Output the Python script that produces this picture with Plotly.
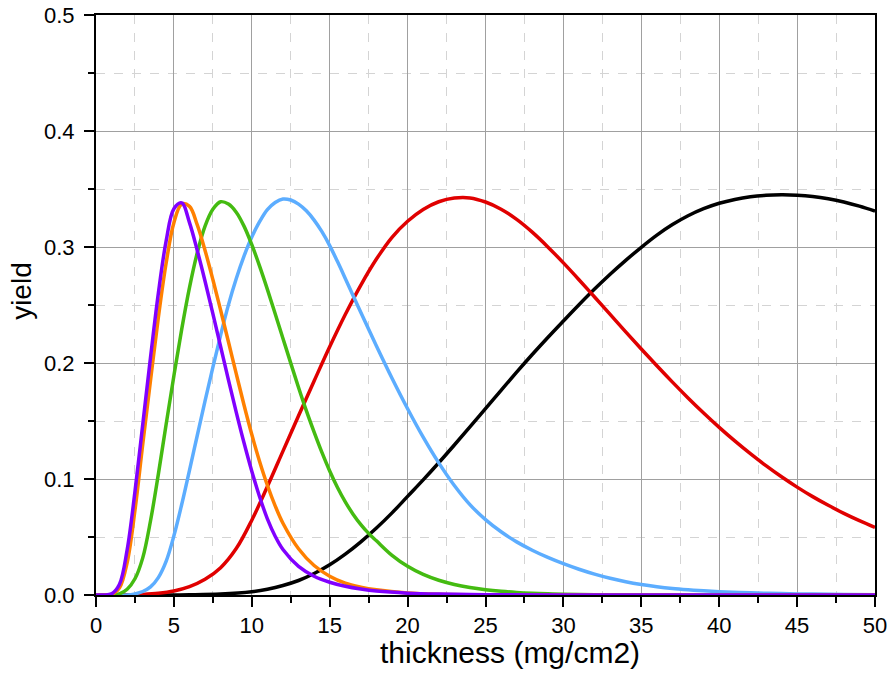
import plotly.graph_objects as go

# ---- data ----
purple_x = [0, 0.5, 1.0, 1.5, 2.0, 2.5, 3.0, 3.5, 4.0, 4.5, 5.0, 5.5, 6.0, 6.5, 7.0, 7.5, 8.0, 8.5, 9.0, 9.5,
            10.0, 10.5, 11.0, 11.5, 12.0, 13, 14, 15, 16, 17, 18, 20, 22, 25, 30, 50]
purple_y = [0, 0, 0.001, 0.009, 0.039, 0.089, 0.147, 0.205, 0.260, 0.305, 0.333, 0.338, 0.321, 0.297, 0.2705,
            0.2425, 0.214, 0.1855, 0.1577, 0.1312, 0.1067, 0.0847, 0.0657, 0.0507, 0.0392, 0.0247, 0.0162,
            0.011, 0.0075, 0.0051, 0.0034, 0.0016, 0.0008, 0.0003, 0, 0]

orange_x = [0, 0.5, 1.0, 1.5, 2.0, 2.5, 3.0, 3.5, 4.0, 4.5, 5.0, 5.5, 6.0, 6.5, 7.0, 7.5, 8.0, 8.5, 9.0, 9.5,
            10.0, 10.5, 11.0, 11.5, 12.0, 13, 14, 15, 16, 17, 18, 20, 22, 25, 30, 50]
orange_y = [0, 0, 0.0005, 0.006, 0.028, 0.073, 0.130, 0.185, 0.239, 0.286, 0.321, 0.337, 0.335, 0.319, 0.297,
            0.272, 0.2455, 0.2183, 0.1908, 0.1638, 0.1383, 0.1151, 0.0946, 0.0769, 0.0619, 0.0399, 0.0254,
            0.0162, 0.0102, 0.0068, 0.0045, 0.0018, 0.0007, 0.0002, 0, 0]

green_x = [0, 1.0, 1.5, 2.0, 2.5, 3.0, 3.5, 4.0, 4.5, 5.0, 5.5, 6.0, 6.5, 7.0, 7.5, 8.0, 8.5, 9.0, 9.5, 10.0,
           10.5, 11.0, 11.5, 12.0, 12.5, 13.0, 13.5, 14.0, 14.5, 15.0, 15.5, 16.0, 16.5, 17.0, 17.5, 18.0,
           19, 20, 21, 22, 23, 24, 25, 26, 27, 28, 29, 30, 32, 35, 40, 50]
green_y = [0, 0, 0.001, 0.005, 0.014, 0.032, 0.064, 0.104, 0.147, 0.189, 0.229, 0.265, 0.295, 0.318, 0.3325,
           0.339, 0.337, 0.330, 0.318, 0.302, 0.2835, 0.2635, 0.2425, 0.2212, 0.1999, 0.1789, 0.1589, 0.1404,
           0.1229, 0.1069, 0.0927, 0.0803, 0.0697, 0.0607, 0.0531, 0.0467, 0.0342, 0.0247, 0.0177, 0.0127,
           0.0091, 0.0065, 0.0046, 0.0032, 0.0022, 0.0015, 0.001, 0.0007, 0.0003, 0.0001, 0, 0]

blue_x = [0, 2.0, 2.5, 3.0, 3.5, 4.0, 4.5, 5.0, 5.5, 6.0, 6.5, 7.0, 7.5, 8.0, 8.5, 9.0, 9.5, 10.0, 10.5, 11.0,
          11.5, 12.0, 12.5, 13.0, 13.5, 14.0, 14.5, 15.0, 15.5, 16.0, 17, 18, 19, 20, 21, 22, 23, 24, 25, 26,
          27, 28, 29, 30, 31, 32, 33, 34, 35, 36, 37, 38, 39, 40, 42, 44, 46, 48, 50]
blue_y = [0, 0, 0.001, 0.003, 0.007, 0.015, 0.029, 0.051, 0.078, 0.1075, 0.1375, 0.1673, 0.1963, 0.2241,
          0.2501, 0.2726, 0.2921, 0.3086, 0.3218, 0.3322, 0.3384, 0.3414, 0.3405, 0.3370, 0.3312, 0.3232,
          0.3132, 0.3012, 0.2874, 0.2729, 0.2435, 0.2147, 0.1869, 0.1606, 0.1361, 0.1139, 0.0944, 0.0779,
          0.0650, 0.0545, 0.0458, 0.0386, 0.0324, 0.0270, 0.0222, 0.0180, 0.0144, 0.0114, 0.0090, 0.0071,
          0.0056, 0.0045, 0.0036, 0.0029, 0.0019, 0.0012, 0.0008, 0.0005, 0.0003]

red_x = [0, 2, 3, 4, 5, 6, 7, 8, 9, 10, 11, 12, 13, 14, 15, 16, 17, 18, 19, 20, 21, 22, 23, 24, 25, 26, 27, 28,
         29, 30, 31, 32, 33, 34, 35, 36, 37, 38, 39, 40, 41, 42, 43, 44, 45, 46, 47, 48, 49, 50]
red_y = [0, 0, 0.0005, 0.0015, 0.0035, 0.0072, 0.0135, 0.0235, 0.040, 0.0645, 0.0935, 0.124, 0.1545, 0.1845,
         0.214, 0.2418, 0.2672, 0.2896, 0.3084, 0.3222, 0.3324, 0.339, 0.3422, 0.3423, 0.3388, 0.3326, 0.3238,
         0.3128, 0.3001, 0.2863, 0.2718, 0.2569, 0.2419, 0.2269, 0.2121, 0.1976, 0.1835, 0.1699, 0.1569,
         0.1445, 0.1328, 0.1218, 0.1115, 0.1019, 0.0930, 0.0848, 0.0773, 0.0704, 0.0641, 0.0583]

black_x = [0, 4, 6, 8, 10, 11, 12, 13, 14, 15, 16, 17, 18, 19, 20, 21, 22, 23, 24, 25, 26, 27, 28, 29, 30, 31,
           32, 33, 34, 35, 36, 37, 38, 39, 40, 41, 42, 43, 44, 45, 46, 47, 48, 49, 50]
black_y = [0, 0, 0.0002, 0.0008, 0.0028, 0.0050, 0.0082, 0.0125, 0.0185, 0.026, 0.0352, 0.0458, 0.0577, 0.0708,
           0.085, 0.0992, 0.114, 0.1293, 0.1449, 0.1607, 0.1765, 0.1921, 0.2073, 0.222, 0.2362, 0.2502, 0.2637,
           0.2765, 0.2885, 0.2997, 0.3102, 0.3193, 0.3269, 0.333, 0.3377, 0.3410, 0.3433, 0.3446, 0.3450,
           0.3447, 0.3436, 0.3416, 0.3388, 0.3352, 0.3309]

x_ticks = [0, 5, 10, 15, 20, 25, 30, 35, 40, 45, 50]
y_ticks = [0.0, 0.1, 0.2, 0.3, 0.4, 0.5]

series = [
    (black_x, black_y, "#000000"),
    (red_x, red_y, "#E00000"),
    (blue_x, blue_y, "#5CADFF"),
    (green_x, green_y, "#44BB11"),
    (orange_x, orange_y, "#FF8000"),
    (purple_x, purple_y, "#8000FF"),
]

FONT = "Liberation Sans, Arial, sans-serif"

fig = go.Figure()
for xs, ys, col in series:
    fig.add_trace(go.Scatter(x=xs, y=ys, mode="lines",
                             line=dict(color=col, width=3.5, shape="spline", smoothing=1.0),
                             showlegend=False, hoverinfo="skip"))

axis_common = dict(
    showline=True, linecolor="black", linewidth=2, mirror=True,
    ticks="outside", ticklen=10, tickwidth=2, tickcolor="black",
    showgrid=True, gridcolor="#A0A0A0", gridwidth=1,
    zeroline=False, automargin=False,
    tickfont=dict(family=FONT, size=22, color="black"),
)

fig.update_xaxes(range=[0, 50], tickvals=x_ticks, ticktext=[str(v) for v in x_ticks],
                 minor=dict(dtick=2.5, ticklen=6, tickwidth=2, tickcolor="black",
                            showgrid=True, gridcolor="#D4D4D4", griddash="dash", gridwidth=1),
                 **axis_common)
fig.update_yaxes(range=[0, 0.5], tickvals=y_ticks, ticktext=[f"{v:.1f}" for v in y_ticks],
                 ticklabelstandoff=5,
                 minor=dict(dtick=0.05, ticklen=6, tickwidth=2, tickcolor="black",
                            showgrid=True, gridcolor="#D4D4D4", griddash="dash", gridwidth=1),
                 **axis_common)

fig.update_layout(
    width=890, height=673,
    margin=dict(l=96, r=15, t=15, b=78, autoexpand=False),
    paper_bgcolor="white", plot_bgcolor="white",
    font=dict(family=FONT, color="black"),
    annotations=[
        dict(text="thickness (mg/cm2)", xref="paper", yref="paper", x=0.532, y=-0.0985,
             xanchor="center", yanchor="middle", showarrow=False,
             font=dict(family=FONT, size=30, color="black")),
        dict(text="yield", xref="paper", yref="paper", x=-0.0958, y=0.525,
             xanchor="center", yanchor="middle", showarrow=False, textangle=-90,
             font=dict(family=FONT, size=28, color="black")),
    ],
)

fig.write_html("out.html")
